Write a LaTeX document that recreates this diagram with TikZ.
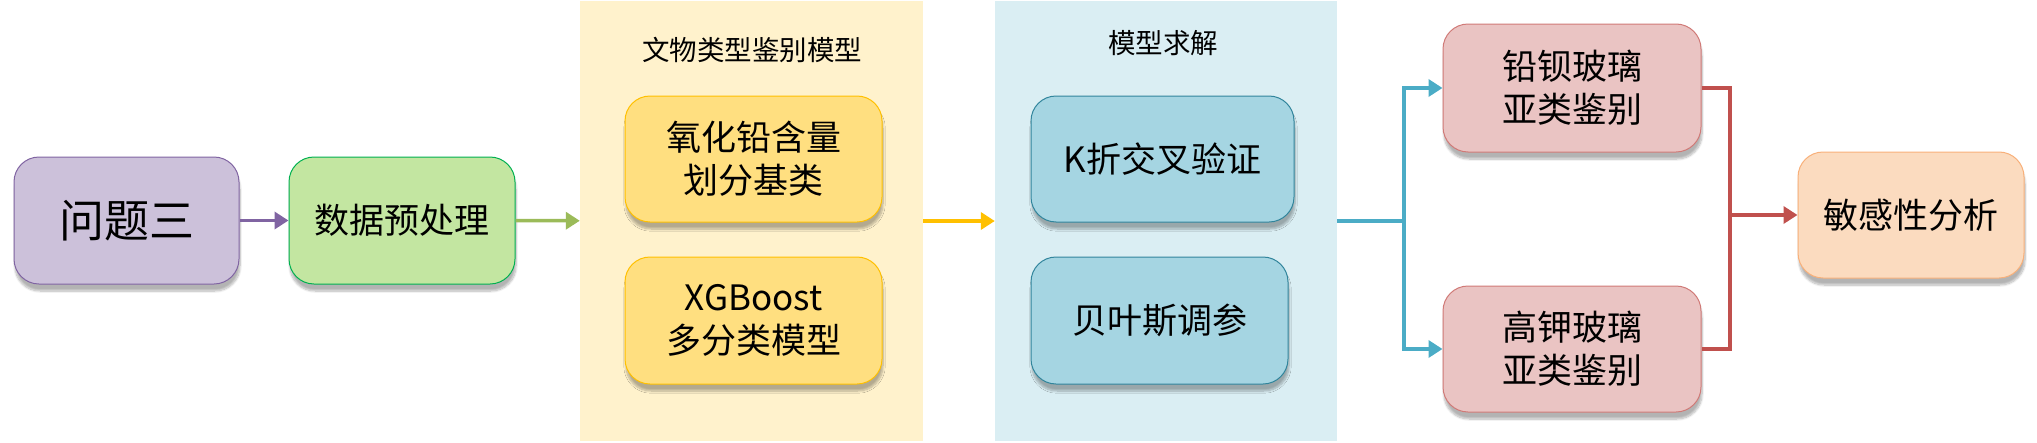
\documentclass[tikz,border=0pt]{standalone}
\usepackage{fontspec}
\setmainfont{Noto Sans CJK SC}
\usetikzlibrary{arrows.meta,shadows.blur}

\definecolor{purplefill}{HTML}{CCC1DA}
\definecolor{purpleline}{HTML}{8064A2}
\definecolor{greenfill}{HTML}{C3E6A1}
\definecolor{greenline}{HTML}{00B050}
\definecolor{greenarrow}{HTML}{9BBB59}
\definecolor{goldpanel}{HTML}{FFF2CC}
\definecolor{goldfill}{HTML}{FFDF80}
\definecolor{goldline}{HTML}{FFC000}
\definecolor{bluepanel}{HTML}{DAEEF3}
\definecolor{bluefill}{HTML}{A5D5E2}
\definecolor{blueline}{HTML}{31859C}
\definecolor{bluearrow}{HTML}{4BACC6}
\definecolor{redfill}{HTML}{EAC4C3}
\definecolor{redline}{HTML}{D07A77}
\definecolor{redarrow}{HTML}{C0504D}
\definecolor{peachfill}{HTML}{FBDBBF}
\definecolor{peachline}{HTML}{F8B07A}

\tikzset{
  box/.style={rounded corners=25pt, line width=1pt, align=center, inner sep=0pt,
    font=\fontsize{35}{43}\selectfont, blur shadow={shadow xshift=1pt, shadow yshift=-7pt, shadow opacity=30, shadow blur steps=8}},
  panel/.style={minimum width=#1, minimum height=440pt, inner sep=0pt},
  title/.style={font=\fontsize{27.5}{33}\selectfont},
  link/.style={line width=3.5pt, -{Triangle[length=14pt,width=17pt]}}
}

\begin{document}
\begin{tikzpicture}[x=1pt,y=-1pt]
  \useasboundingbox (0,0) rectangle (2037,442);
  \node[panel=343pt, fill=goldpanel](p1) at (751.5,221){};
  \node[panel=342pt, fill=bluepanel](p2) at (1166,221){};
  \node[title](t1) at (752,50){文物类型鉴别模型};
  \node[title](t2) at (1163,43){模型求解};

  \node[box, fill=purplefill, draw=purpleline, minimum width=225pt, minimum height=127pt,
    font=\fontsize{45}{54}\selectfont](q3) at (126.5,220.5){问题三};
  \node[box, fill=greenfill, draw=greenline, minimum width=226pt, minimum height=127pt](pre) at (402,220.5){数据预处理};
  \node[box, fill=goldfill, draw=goldline, minimum width=257pt, minimum height=126pt](pbo) at (753.5,159){氧化铅含量\\划分基类};
  \node[box, fill=goldfill, draw=goldline, minimum width=257pt, minimum height=127pt](xgb) at (753.5,320.5){XGBoost\\多分类模型};
  \node[box, fill=bluefill, draw=blueline, minimum width=263pt, minimum height=126pt](kf) at (1162.5,159){K折交叉验证};
  \node[box, fill=bluefill, draw=blueline, minimum width=257pt, minimum height=127pt](bay) at (1159.5,320.5){贝叶斯调参};
  \node[box, fill=redfill, draw=redline, minimum width=258pt, minimum height=128pt](pb) at (1572,88){铅钡玻璃\\亚类鉴别};
  \node[box, fill=redfill, draw=redline, minimum width=258pt, minimum height=126pt](hk) at (1572,349){高钾玻璃\\亚类鉴别};
  \node[box, fill=peachfill, draw=peachline, minimum width=226pt, minimum height=126pt](sens) at (1911,215){敏感性分析};

  \coordinate(bj) at (1404,221);
  \coordinate(rj) at (1730,215);
  \draw[link, purpleline](q3) -- (pre);
  \draw[link, greenarrow](pre) -- (p1);
  \draw[link, goldline](p1) -- (p2);
  \draw[line width=3.5pt, bluearrow](p2.east) -- (bj);
  \draw[link, bluearrow](bj) |- (pb.west);
  \draw[link, bluearrow](bj) |- (hk.west);
  \draw[line width=3.5pt, redarrow](pb.east) -| (rj) |- (hk.east);
  \draw[link, redarrow](rj) -- (sens);
\end{tikzpicture}
\end{document}
